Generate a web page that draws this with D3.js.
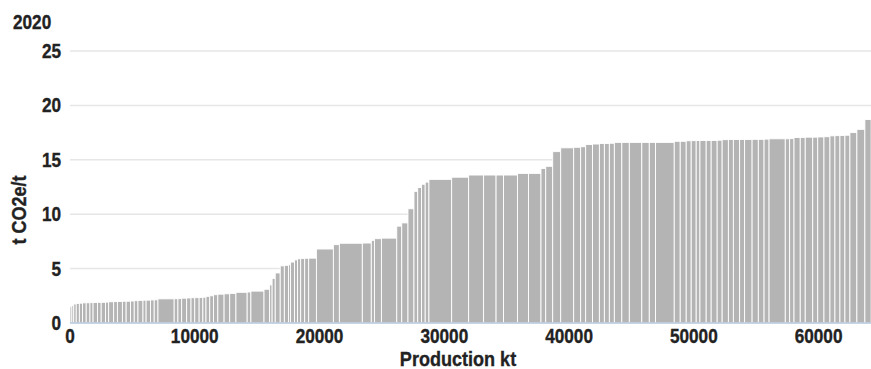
<!DOCTYPE html>
<html>
<head>
<meta charset="utf-8">
<script src="https://cdn.jsdelivr.net/npm/d3@7"></script>
<style>
  body { margin: 0; background: #fff; }
  text { font-family: "Liberation Sans", Arial, sans-serif; font-weight: bold; fill: #222; stroke: #222; stroke-width: 0.35; }
</style>
</head>
<body>
<script>
// Production (kt) of each plant, sorted by intensity
const production = [
  150, 150, 200, 250, 250, 300, 300, 250, 350, 300, 350, 250, 400, 300, 400, 300, 350, 300,
  300, 400, 250, 350, 300, 300,
  1300, 300, 300,
  400, 350, 300, 350, 300, 250,
  300, 300,
  350, 500, 450, 500,
  900, 300,
  1050,
  450, 200, 250, 400,
  330, 330, 160, 320, 250, 250, 320, 320, 620,
  1360, 480, 1840, 720, 250, 560, 1230,
  400, 500, 480, 300, 300, 300, 300,
  1820, 1360, 1200, 1000, 600, 1120, 880, 1000, 380, 560,
  640, 1040, 560, 400, 550, 550, 400, 400, 400, 600, 600,
  1000, 600, 500, 1500, 480, 480,
  400, 400, 300, 500, 400, 480, 400,
  500, 400, 500, 400, 600, 500, 460, 400,
  1300, 350, 350,
  500, 400, 600, 400, 500, 480,
  400, 400, 400, 400,
  560, 640, 500
];
// Emission intensity (t CO2e/t) of each plant
const intensity = [
  1.5, 1.6, 1.75, 1.8, 1.82, 1.85, 1.86, 1.87, 1.88, 1.9, 1.9, 1.92, 1.95, 1.97, 1.98, 2.0, 2.0, 2.02,
  2.05, 2.08, 2.1, 2.1, 2.12, 2.13,
  2.22, 2.23, 2.24,
  2.28, 2.3, 2.32, 2.33, 2.35, 2.37,
  2.45, 2.5,
  2.6, 2.65, 2.68, 2.72,
  2.82, 2.85,
  2.93,
  3.1, 3.5, 4.1, 4.6,
  5.25, 5.3, 5.35, 5.6, 5.8, 5.9, 5.92, 5.95, 5.96,
  6.8, 7.2, 7.33, 7.35, 7.6, 7.75, 7.8,
  8.9, 9.2, 10.5, 12.1, 12.45, 12.75, 12.95,
  13.2, 13.4, 13.6, 13.6, 13.6, 13.6, 13.75, 13.75, 14.2, 14.4,
  15.75, 16.1, 16.15, 16.2, 16.4, 16.45, 16.5, 16.5, 16.52, 16.6, 16.6,
  16.6, 16.6, 16.6, 16.6, 16.7, 16.7,
  16.75, 16.76, 16.77, 16.77, 16.78, 16.78, 16.8,
  16.85, 16.86, 16.86, 16.87, 16.87, 16.88, 16.88, 16.9,
  16.93, 16.93, 16.95,
  17.05, 17.06, 17.08, 17.08, 17.1, 17.12,
  17.2, 17.22, 17.24, 17.26,
  17.5, 17.8, 18.7
];
const yTicks = [0, 5, 10, 15, 20, 25];
const xTicks = [0, 10000, 20000, 30000, 40000, 50000, 60000];

const width = 871, height = 369;
const margin = { top: 51, right: 0, bottom: 46, left: 70 };
const narrow = 0.86; // horizontal squeeze to mimic a condensed bold face

let acc = 0;
const bars = production.map((p, i) => {
  const d = { x0: acc, x1: acc + p, v: intensity[i] };
  acc += p;
  return d;
});

const xScale = d3.scaleLinear().domain([0, 64200]).range([margin.left, width - margin.right]);
const yScale = d3.scaleLinear().domain([0, 25]).range([height - margin.bottom, margin.top]);

const svg = d3.select("body").append("svg")
  .attr("width", width)
  .attr("height", height)
  .attr("viewBox", [0, 0, width, height]);

// gridlines
svg.append("g")
  .selectAll("line")
  .data(yTicks.filter(t => t > 0))
  .join("line")
  .attr("x1", margin.left)
  .attr("x2", width - margin.right)
  .attr("y1", d => yScale(d))
  .attr("y2", d => yScale(d))
  .attr("stroke", "#e6e6e6")
  .attr("stroke-width", 1.5);

// bars
svg.append("g")
  .selectAll("rect")
  .data(bars)
  .join("rect")
  .attr("x", d => xScale(d.x0))
  .attr("width", d => Math.max(0.5, xScale(d.x1) - xScale(d.x0)))
  .attr("y", d => yScale(d.v))
  .attr("height", d => yScale(0) - yScale(d.v))
  .attr("fill", "#b4b4b4")
  .attr("stroke", "#fff")
  .attr("stroke-width", 0.9);

// x axis line
svg.append("line")
  .attr("x1", margin.left)
  .attr("x2", width - margin.right)
  .attr("y1", yScale(0))
  .attr("y2", yScale(0))
  .attr("stroke", "#b3c6db")
  .attr("stroke-width", 1.5);

// y tick labels
svg.append("g")
  .selectAll("text")
  .data(yTicks)
  .join("text")
  .attr("transform", d => `translate(61,${yScale(d) + 7}) scale(${narrow},1)`)
  .attr("text-anchor", "end")
  .attr("font-size", 20)
  .text(d => d);

// x tick labels
svg.append("g")
  .selectAll("text")
  .data(xTicks)
  .join("text")
  .attr("transform", d => `translate(${xScale(d)},343) scale(${narrow},1)`)
  .attr("text-anchor", "middle")
  .attr("font-size", 20)
  .text(d => d3.format("d")(d));

// titles
svg.append("text")
  .attr("transform", `translate(13,29) scale(${narrow},1)`)
  .attr("font-size", 20)
  .text("2020");

svg.append("text")
  .attr("transform", `translate(26,210) rotate(-90) scale(${narrow},1)`)
  .attr("text-anchor", "middle")
  .attr("font-size", 21)
  .text("t CO2e/t");

svg.append("text")
  .attr("transform", `translate(458,366) scale(${narrow},1)`)
  .attr("text-anchor", "middle")
  .attr("font-size", 21)
  .text("Production kt");
</script>
</body>
</html>
